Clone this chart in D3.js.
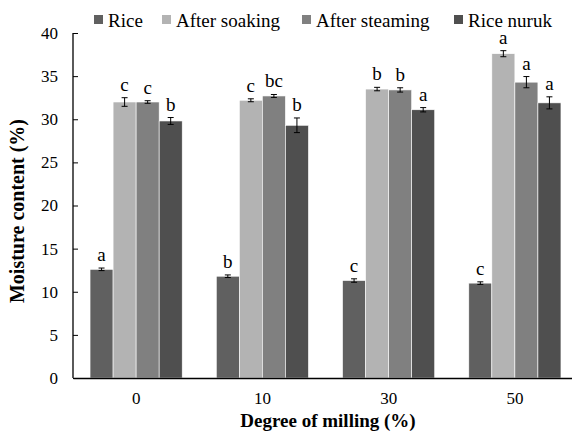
<!DOCTYPE html>
<html>
<head>
<meta charset="utf-8">
<script src="https://cdn.jsdelivr.net/npm/d3@7"></script>
<style>
  body { margin: 0; background: #fff; }
  svg { display: block; font-family: "Liberation Serif", "Times New Roman", serif; }
</style>
</head>
<body>
<svg id="chart" width="572" height="436"></svg>
<script>
// data
var categories = ['0', '10', '30', '50'];
var series = ['Rice', 'After soaking', 'After steaming', 'Rice nuruk'];
var colors = ['#606060', '#b3b3b3', '#808080', '#4f4f4f'];

var rice      = [12.6, 11.8, 11.3, 11.0];
var soaking   = [32.0, 32.2, 33.5, 37.6];
var steaming  = [32.0, 32.7, 33.4, 34.3];
var nuruk     = [29.8, 29.3, 31.1, 31.9];

var riceErr     = [0.15, 0.15, 0.2, 0.15];
var soakingErr  = [0.5, 0.17, 0.2, 0.35];
var steamingErr = [0.15, 0.17, 0.25, 0.65];
var nurukErr    = [0.4, 0.85, 0.25, 0.7];

var riceSig     = ['a', 'b', 'c', 'c'];
var soakingSig  = ['c', 'c', 'b', 'a'];
var steamingSig = ['c', 'bc', 'b', 'a'];
var nurukSig    = ['b', 'b', 'a', 'a'];

var yTicks = [0, 5, 10, 15, 20, 25, 30, 35, 40];

var values = [rice, soaking, steaming, nuruk];
var errors = [riceErr, soakingErr, steamingErr, nurukErr];
var letters = [riceSig, soakingSig, steamingSig, nurukSig];

var svg = d3.select('#chart');
var plotLeft = 73, plotTop = 33, plotBottom = 378, plotRight = 578;

var x0 = d3.scaleBand().domain(categories).range([plotLeft, plotRight])
    .paddingInner(0.27).paddingOuter(0.135);
var x1 = d3.scaleBand().domain(series).range([0, x0.bandwidth()]);
var y = d3.scaleLinear().domain([0, 40]).range([plotBottom, plotTop]);

// bars, error bars and letters
categories.forEach(function(cat, i) {
    var g = svg.append('g').attr('transform', 'translate(' + x0(cat) + ',0)');
    series.forEach(function(s, j) {
        var v = values[j][i], e = errors[j][i];
        var bx = x1(s), cx = bx + x1.bandwidth() / 2;
        g.append('rect')
            .attr('x', bx)
            .attr('y', y(v))
            .attr('width', x1.bandwidth())
            .attr('height', y(0) - y(v))
            .attr('fill', colors[j])
            .attr('stroke', '#fff')
            .attr('stroke-width', 0.6);
        g.append('line')
            .attr('x1', cx).attr('x2', cx)
            .attr('y1', y(v - e)).attr('y2', y(v + e))
            .attr('stroke', '#000').attr('stroke-width', 1);
        [v - e, v + e].forEach(function(t) {
            g.append('line')
                .attr('x1', cx - 3).attr('x2', cx + 3)
                .attr('y1', y(t)).attr('y2', y(t))
                .attr('stroke', '#000').attr('stroke-width', 1);
        });
        g.append('text')
            .attr('x', cx)
            .attr('y', y(v + e) - 7)
            .attr('text-anchor', 'middle')
            .attr('font-size', 19)
            .text(letters[j][i]);
    });
});

// y axis (ticks pointing inward)
var yAxis = svg.append('g')
    .attr('transform', 'translate(' + plotLeft + ',0)')
    .call(d3.axisRight(y).tickValues(yTicks).tickSize(5));
yAxis.select('.domain').attr('stroke', '#000').attr('stroke-width', 1.3)
    .attr('d', 'M0,' + plotTop + 'V' + plotBottom);
yAxis.selectAll('.tick line').attr('stroke', '#000');
yAxis.selectAll('.tick text')
    .attr('text-anchor', 'end')
    .attr('x', -15)
    .attr('font-size', 17)
    .attr('font-family', '"Liberation Serif", serif')
    .attr('fill', '#000');

// x axis
var xAxis = svg.append('g')
    .attr('transform', 'translate(0,' + plotBottom + ')')
    .call(d3.axisBottom(x0).tickSize(0).tickPadding(14));
xAxis.select('.domain').attr('stroke', '#000').attr('stroke-width', 1.3);
xAxis.selectAll('.tick text')
    .attr('font-size', 17)
    .attr('font-family', '"Liberation Serif", serif')
    .attr('fill', '#000');

// axis titles
svg.append('text')
    .attr('x', 328).attr('y', 427)
    .attr('text-anchor', 'middle')
    .attr('font-size', 19).attr('font-weight', 'bold')
    .text('Degree of milling (%)');
svg.append('text')
    .attr('transform', 'translate(24,211) rotate(-90)')
    .attr('text-anchor', 'middle')
    .attr('font-size', 20).attr('font-weight', 'bold')
    .text('Moisture content (%)');

// legend
var legendX = [94, 162, 302, 454];
series.forEach(function(s, j) {
    svg.append('rect')
        .attr('x', legendX[j]).attr('y', 15)
        .attr('width', 9).attr('height', 9)
        .attr('fill', colors[j]);
    svg.append('text')
        .attr('x', legendX[j] + 14).attr('y', 27)
        .attr('font-size', 19)
        .text(s);
});
</script>
</body>
</html>
